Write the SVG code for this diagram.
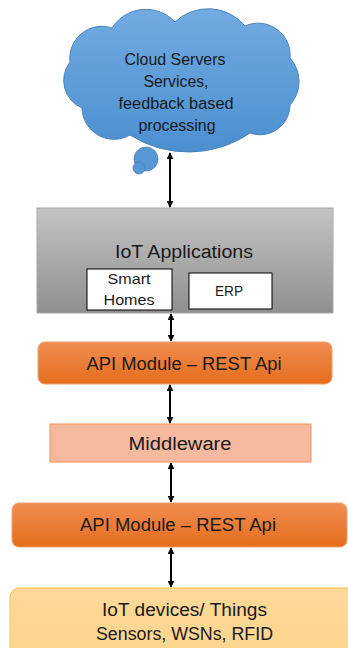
<svg xmlns="http://www.w3.org/2000/svg" width="348" height="648" viewBox="0 0 348 648">
<style>
text{font-family:"Liberation Sans",Arial,sans-serif;fill:#1a1a1a;text-anchor:middle}
.conn line{stroke:#000;stroke-width:2;marker-start:url(#ah);marker-end:url(#ah)}
.api{fill:url(#gOr);stroke:#f3a06a;stroke-width:1}
</style>
<defs>
<linearGradient id="gCloud" x1="0" y1="0" x2="0" y2="1"><stop offset="0" stop-color="#72abe0"/><stop offset="1" stop-color="#4b8fd1"/></linearGradient>
<linearGradient id="gGray" x1="0" y1="0" x2="0" y2="1"><stop offset="0" stop-color="#c4c4c4"/><stop offset="1" stop-color="#8f8f8f"/></linearGradient>
<linearGradient id="gOr" x1="0" y1="0" x2="0" y2="1"><stop offset="0" stop-color="#f08d52"/><stop offset="1" stop-color="#e56d1c"/></linearGradient>
<linearGradient id="gYel" x1="0" y1="0" x2="0" y2="1"><stop offset="0" stop-color="#fed898"/><stop offset="1" stop-color="#fdd58c"/></linearGradient>
<marker id="ah" viewBox="0 0 10 10" refX="9" refY="5" markerWidth="7" markerHeight="7" markerUnits="userSpaceOnUse" orient="auto-start-reverse"><path d="M0,0 L10,5 L0,10 z" fill="#000"/></marker>
</defs>

<g id="cloud">
<path d="M82,108 A30,30 0 0 1 70,62 A32,32 0 0 1 112,28 A40,40 0 0 1 175,22 A48,48 0 0 1 245,26 A32,32 0 0 1 290,58 A35,35 0 0 1 290,105 A30,30 0 0 1 250,133 A109,109 0 0 1 130,135 A32,32 0 0 1 82,108 Z" fill="url(#gCloud)" stroke="#4a84bf" stroke-width="1"/>
<circle cx="146" cy="159" r="12" fill="#5897d4" stroke="#4a84bf" stroke-width="0.8"/>
<circle cx="139" cy="168" r="6" fill="#5897d4" stroke="#4a84bf" stroke-width="0.8"/>
<text x="175" y="65" font-size="16" textLength="101" lengthAdjust="spacingAndGlyphs">Cloud Servers</text>
<text x="176" y="87" font-size="16" textLength="65" lengthAdjust="spacingAndGlyphs">Services,</text>
<text x="176" y="109" font-size="16" textLength="115" lengthAdjust="spacingAndGlyphs">feedback based</text>
<text x="177" y="131" font-size="16" textLength="77" lengthAdjust="spacingAndGlyphs">processing</text>
</g>

<g id="iot-applications">
<rect x="37" y="208" width="296" height="105" fill="url(#gGray)" stroke="#a8a8a8" stroke-width="1"/>
<text x="184" y="258" font-size="19" textLength="138" lengthAdjust="spacingAndGlyphs">IoT Applications</text>
</g>
<g id="smart-homes">
<rect x="87" y="269" width="85" height="41" fill="#fff" stroke="#000" stroke-width="1"/>
<text x="129" y="284" font-size="15" textLength="43" lengthAdjust="spacingAndGlyphs">Smart</text>
<text x="129" y="305" font-size="15" textLength="51" lengthAdjust="spacingAndGlyphs">Homes</text>
</g>
<g id="erp">
<rect x="189" y="273" width="83" height="36" fill="#fff" stroke="#000" stroke-width="1"/>
<text x="229" y="296" font-size="15" textLength="28" lengthAdjust="spacingAndGlyphs">ERP</text>
</g>

<g id="api-top">
<rect class="api" x="38" y="342" width="294" height="42" rx="7"/>
<text x="184" y="370" font-size="18" textLength="195" lengthAdjust="spacingAndGlyphs">API Module – REST Api</text>
</g>

<g id="middleware">
<rect x="50" y="424" width="261" height="38" fill="#f5b9a0" stroke="#f29352" stroke-width="1"/>
<text x="180" y="450" font-size="18" textLength="103" lengthAdjust="spacingAndGlyphs">Middleware</text>
</g>

<g id="api-bottom">
<rect class="api" x="12" y="503" width="335" height="44" rx="7"/>
<text x="178" y="531" font-size="18" textLength="196" lengthAdjust="spacingAndGlyphs">API Module – REST Api</text>
</g>

<g id="iot-devices">
<rect x="10" y="588" width="350" height="80" rx="9" fill="url(#gYel)" stroke="#f8c14c" stroke-width="1"/>
<text x="184.5" y="616" font-size="18" textLength="165" lengthAdjust="spacingAndGlyphs">IoT devices/ Things</text>
<text x="184.5" y="640" font-size="18" textLength="177" lengthAdjust="spacingAndGlyphs">Sensors, WSNs, RFID</text>
</g>

<g id="connectors" class="conn">
<line x1="170" y1="153" x2="170" y2="207"/>
<line x1="171" y1="314" x2="171" y2="341"/>
<line x1="170" y1="385" x2="170" y2="423"/>
<line x1="171" y1="463" x2="171" y2="502"/>
<line x1="171" y1="548" x2="171" y2="587"/>
</g>
</svg>
